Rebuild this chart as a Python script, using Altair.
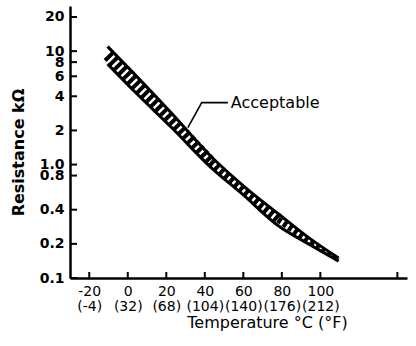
import json
import altair as alt
import pandas as pd

# ---- data ----
temp_c = [-10.5, 3, 23, 43, 60, 78, 95, 109.5]
upper_kohm = [11.0, 6.4, 2.8, 1.19, 0.65, 0.37, 0.22, 0.15]
lower_kohm = [7.7, 4.5, 2.1, 0.95, 0.54, 0.29, 0.195, 0.141]

y_ticks = [0.1, 0.2, 0.4, 0.8, 1, 2, 4, 6, 8, 10, 20]
y_tick_labels = ["0.1", "0.2", "0.4", "0.8", "1.0", "2", "4", "6", "8", "10", "20"]
x_ticks = [-20, 0, 20, 40, 60, 80, 100]
x_labels_c = ["-20", "0", "20", "40", "60", "80", "100"]
x_labels_f = ["(-4)", "(32)", "(68)", "(104)", "(140)", "(176)", "(212)"]
x_extra_ticks = [140]

leader_t = [31.2, 38.4, 52]
leader_r = [2.12, 3.52, 3.52]
label_text = ["Acceptable"]
label_t = [53.5]
label_r = [3.52]

band = pd.DataFrame({"T": temp_c, "upper": upper_kohm, "lower": lower_kohm})

FONT = "DejaVu Sans"
xscale = alt.Scale(domain=[-30, 145], nice=False, zero=False)
yscale = alt.Scale(type="log", domain=[0.1, 25], nice=False)

x_expr = "[{c}[indexof({v}, datum.value)], {f}[indexof({v}, datum.value)]]".format(
    c=json.dumps(x_labels_c), f=json.dumps(x_labels_f), v=json.dumps(x_ticks))
y_expr = "{l}[indexof({v}, datum.value)]".format(
    l=json.dumps(y_tick_labels), v=json.dumps(y_ticks))

x_axis = alt.Axis(values=x_ticks, labelExpr=x_expr, tickSize=0, grid=False,
                  domainColor="black", domainWidth=2.5,
                  labelFont=FONT, labelFontSize=14, labelColor="black",
                  labelPadding=6, labelLineHeight=15, labelOverlap=False,
                  labelFlush=False, labelBound=False,
                  title="Temperature °C (°F)", titleFont=FONT, titleFontSize=16,
                  titleFontWeight="normal", titleColor="black",
                  titleX=197, titleY=44, titleBaseline="middle", titleAlign="center")
y_axis = alt.Axis(values=y_ticks, labelExpr=y_expr, tickSize=0, grid=False,
                  domainColor="black", domainWidth=2.5,
                  labelFont=FONT, labelFontSize=14, labelFontWeight="bold",
                  labelColor="black", labelPadding=6, labelOverlap=False,
                  labelFlush=False, labelBound=False,
                  title="Resistance  kΩ", titleFont=FONT, titleFontSize=16,
                  titleFontWeight="bold", titleColor="black", titleAngle=-90,
                  titleX=-52, titleY=146, titleBaseline="middle", titleAlign="center")

base = alt.Chart(band)
X = alt.X("T:Q", scale=xscale, axis=x_axis)

# hatch: dashed thick middle line, in segments of decreasing width
def hatch(lo, hi, w):
    return base.transform_filter(
        f"datum.T >= {lo} && datum.T <= {hi}"
    ).transform_calculate(
        mid="sqrt(datum.upper * datum.lower)"
    ).mark_line(color="black", strokeWidth=w, strokeDash=[4, 2.5],
                strokeCap="butt", interpolate="monotone").encode(
        x=X, y=alt.Y("mid:Q", scale=yscale, axis=y_axis))

hatches = [hatch(-11, 43, 11), hatch(43, 78, 8), hatch(78, 95, 6), hatch(95, 110, 3.5)]

upper_line = base.mark_line(color="black", strokeWidth=3, interpolate="monotone").encode(
    x=X, y=alt.Y("upper:Q", scale=yscale, axis=y_axis))
lower_line = base.mark_line(color="black", strokeWidth=3, interpolate="monotone").encode(
    x=X, y=alt.Y("lower:Q", scale=yscale, axis=y_axis))

leader = alt.Chart(pd.DataFrame({"T": leader_t, "R": leader_r})).mark_line(
    color="black", strokeWidth=1.6).encode(
    x=X, y=alt.Y("R:Q", scale=yscale, axis=y_axis))
label = alt.Chart(pd.DataFrame({"T": label_t, "R": label_r, "txt": label_text})).mark_text(
    align="left", baseline="middle", font=FONT, fontSize=16, color="black").encode(
    x=X, y=alt.Y("R:Q", scale=yscale, axis=y_axis), text="txt:N")

ytick_marks = alt.Chart(pd.DataFrame({"v": y_ticks})).mark_rule(
    color="black", strokeWidth=2).encode(
    y=alt.Y("v:Q", scale=yscale, axis=y_axis), x=alt.value(0), x2=alt.value(7))
xtick_marks = alt.Chart(pd.DataFrame({"v": x_ticks + x_extra_ticks})).mark_rule(
    color="black", strokeWidth=2).encode(
    x=alt.X("v:Q", scale=xscale, axis=x_axis), y=alt.value(272), y2=alt.value(266))

chart = alt.layer(
    *hatches, upper_line, lower_line, leader, label, ytick_marks, xtick_marks
).properties(
    width=337, height=272, autosize="none",
    padding={"left": 70, "top": 6, "right": 9, "bottom": 68},
    background="white",
).configure_view(stroke=None)

chart.save("out.html", embed_options={"renderer": "svg", "actions": False})
